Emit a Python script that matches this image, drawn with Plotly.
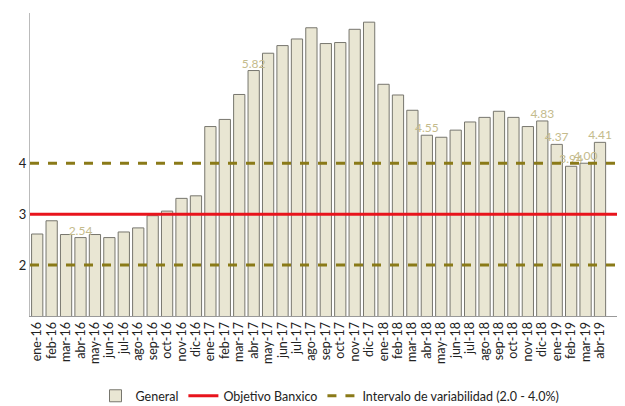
import plotly.graph_objects as go

months = ["ene", "feb", "mar", "abr", "may", "jun", "jul", "ago", "sep", "oct", "nov", "dic"]
categories = [m + "-" + y for y in ["16", "17", "18"] for m in months] + ["ene-19", "feb-19", "mar-19", "abr-19"]
general = [2.61, 2.87, 2.60, 2.54, 2.60, 2.54, 2.65, 2.73, 2.97, 3.06, 3.31, 3.36,
           4.72, 4.86, 5.35, 5.82, 6.16, 6.31, 6.44, 6.66, 6.35, 6.37, 6.63, 6.77,
           5.55, 5.34, 5.04, 4.55, 4.51, 4.65, 4.81, 4.90, 5.02, 4.90, 4.72, 4.83,
           4.37, 3.94, 4.00, 4.41]
labeled = ["abr-16", "abr-17", "abr-18", "dic-18", "ene-19", "feb-19", "mar-19", "abr-19"]
objetivo = 3.0
intervalo_low, intervalo_high = 2.0, 4.0

lab_x = [c for c in categories if c in labeled]
lab_y = [v for c, v in zip(categories, general) if c in labeled]

fig = go.Figure()
fig.add_trace(go.Bar(x=categories, y=general, name="General",
                     marker=dict(color="#e9e6d3", line=dict(color="#77766e", width=1)),
                     width=0.78))
fig.add_trace(go.Scatter(x=[0, 1], y=[objetivo, objetivo], xaxis="x2", mode="lines",
                         name="Objetivo Banxico", line=dict(color="#e8141c", width=3)))
fig.add_trace(go.Scatter(x=[0, 1, None, 0, 1], y=[intervalo_high, intervalo_high, None, intervalo_low, intervalo_low],
                         xaxis="x2", mode="lines", name="Intervalo de variabilidad (2.0 - 4.0%)",
                         line=dict(color="#8a7a18", width=3, dash="dash")))
fig.add_trace(go.Scatter(x=lab_x, y=lab_y, mode="text", text=["%.2f" % v for v in lab_y],
                         textposition="top center", cliponaxis=False, showlegend=False,
                         textfont=dict(color="#c4bb8c", size=12), hoverinfo="skip"))

fig.update_layout(
    width=625, height=406, margin=dict(l=22, r=3, t=5, b=62),
    plot_bgcolor="white", paper_bgcolor="white",
    font=dict(family="Lato", size=12, color="#222"),
    bargap=0.2, showlegend=True,
    legend=dict(orientation="h", x=0.5, xanchor="center", y=-0.215, yanchor="top",
                font=dict(size=12.5), traceorder="normal"),
    xaxis=dict(tickangle=-90, showline=True, linecolor="#999", ticks="", tickmode="array",
               tickvals=categories, tickfont=dict(size=12.5)),
    xaxis2=dict(overlaying="x", range=[0, 1], visible=False),
    yaxis=dict(range=[1, 6.95], tickvals=[2, 3, 4], showgrid=False, showline=True,
               linecolor="#bbb", tickfont=dict(size=13, color="#222")),
)
fig.write_html("out.html")
